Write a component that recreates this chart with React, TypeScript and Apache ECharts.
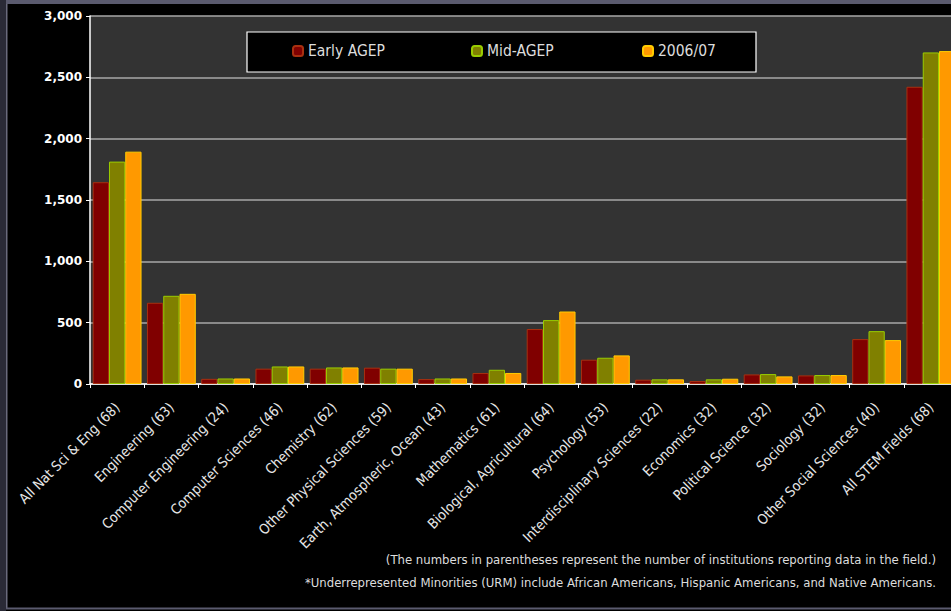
import React, { useEffect, useRef } from "react";
import * as echarts from "echarts";

const categories = [
  "All Nat Sci & Eng (68)",
  "Engineering (63)",
  "Computer Engineering (24)",
  "Computer Sciences (46)",
  "Chemistry (62)",
  "Other Physical Sciences (59)",
  "Earth, Atmospheric, Ocean (43)",
  "Mathematics (61)",
  "Biological, Agricultural (64)",
  "Psychology (53)",
  "Interdisciplinary Sciences (22)",
  "Economics (32)",
  "Political Science (32)",
  "Sociology (32)",
  "Other Social Sciences (40)",
  "All STEM Fields (68)",
];

const earlyAGEP = [1645, 662, 42, 125, 125, 133, 40, 90, 448, 198, 35, 24, 78, 70, 366, 2423];
const midAGEP = [1813, 719, 45, 143, 135, 125, 45, 116, 521, 214, 38, 38, 81, 73, 431, 2703];
const y2006 = [1894, 735, 45, 143, 135, 125, 45, 90, 591, 233, 38, 43, 62, 73, 358, 2714];

const seriesNames = ["Early AGEP", "Mid-AGEP", "2006/07"];
const footnotes = [
  "(The numbers in parentheses represent the number of institutions reporting data in the field.)",
  "*Underrepresented Minorities (URM) include African Americans, Hispanic Americans, and Native Americans.",
];

const FONT = "'DejaVu Sans Condensed', 'DejaVu Sans', sans-serif";

export default function App() {
  const ref = useRef<HTMLDivElement>(null);
  useEffect(() => {
    if (!ref.current) return;
    const chart = echarts.init(ref.current, null, { renderer: "svg" });
    const styles = [
      { color: "#800000", borderColor: "#a83010" },
      { color: "#808000", borderColor: "#99cc00" },
      { color: "#ff9900", borderColor: "#ffcc00" },
    ];
    const data = [earlyAGEP, midAGEP, y2006];
    const legendX = [292, 471, 642];
    chart.setOption({
      animation: false,
      backgroundColor: "#000",
      grid: {
        left: 90,
        top: 16,
        width: 868,
        height: 368,
        show: true,
        backgroundColor: "#333333",
        borderWidth: 0,
        containLabel: false,
      },
      legend: seriesNames.map((n, i) => ({
        data: [n],
        left: legendX[i],
        top: 43,
        padding: 0,
        itemWidth: 10,
        itemHeight: 10,
        itemGap: 5,
        selectedMode: false,
        textStyle: { color: "#dddddd", fontSize: 15.5, fontFamily: FONT, padding: [0, 0, 0, 0] },
        z: 5,
      })),
      xAxis: {
        type: "category",
        data: categories,
        boundaryGap: true,
        axisLine: { lineStyle: { color: "#ffffff", width: 1.5 } },
        axisTick: { show: true, length: 4, lineStyle: { color: "#ffffff" } },
        axisLabel: {
          rotate: 45,
          interval: 0,
          color: "#e6e6e6",
          fontSize: 14,
          fontFamily: FONT,
          margin: 21,
        },
      },
      yAxis: {
        type: "value",
        min: 0,
        max: 3000,
        interval: 500,
        axisLine: { show: true, lineStyle: { color: "#ffffff", width: 1.5 } },
        axisTick: { show: true, length: 4, lineStyle: { color: "#ffffff" } },
        axisLabel: {
          color: "#ffffff",
          fontSize: 12,
          fontWeight: "bold",
          fontFamily: "'DejaVu Sans', sans-serif",
          margin: 8,
          formatter: (v: number) => v.toLocaleString("en-US"),
        },
        splitLine: { show: true, lineStyle: { color: "#a8a8a8", width: 1.5 } },
      },
      series: seriesNames.map((n, i) => ({
        name: n,
        type: "bar",
        data: data[i],
        barGap: "0%",
        barCategoryGap: "10%",
        itemStyle: { color: styles[i].color, borderColor: styles[i].borderColor, borderWidth: 1 },
      })),
      graphic: [
        { type: "rect", shape: { x: 0, y: 0, width: 970, height: 4 }, style: { fill: "#5a5a6e" }, z: 10 },
        { type: "rect", shape: { x: 0, y: 0, width: 6, height: 611 }, style: { fill: "#2a2a36" }, z: 10 },
        { type: "rect", shape: { x: 6, y: 4, width: 1.5, height: 605 }, style: { fill: "#6a6a7c" }, z: 10 },
        { type: "rect", shape: { x: 6, y: 607.5, width: 964, height: 2 }, style: { fill: "#5a5a6e" }, z: 10 },
        {
          type: "rect",
          shape: { x: 247, y: 32, width: 509, height: 40 },
          style: { fill: "#000000", stroke: "#ffffff", lineWidth: 1.2 },
          z: 1,
        },
        {
          type: "text",
          x: 936,
          y: 559,
          style: {
            text: footnotes[0],
            fill: "#dddddd",
            fontSize: 13,
            fontFamily: FONT,
            textAlign: "right",
            textVerticalAlign: "middle",
          },
          z: 10,
        },
        {
          type: "text",
          x: 936,
          y: 582,
          style: {
            text: footnotes[1],
            fill: "#dddddd",
            fontSize: 13,
            fontFamily: FONT,
            textAlign: "right",
            textVerticalAlign: "middle",
          },
          z: 10,
        },
      ],
    });
    return () => chart.dispose();
  }, []);
  return (
    <div style={{ position: "absolute", left: 0, top: 0, width: 951, height: 611, overflow: "hidden", background: "#000" }}>
      <div ref={ref} style={{ width: 970, height: 611 }} />
    </div>
  );
}
